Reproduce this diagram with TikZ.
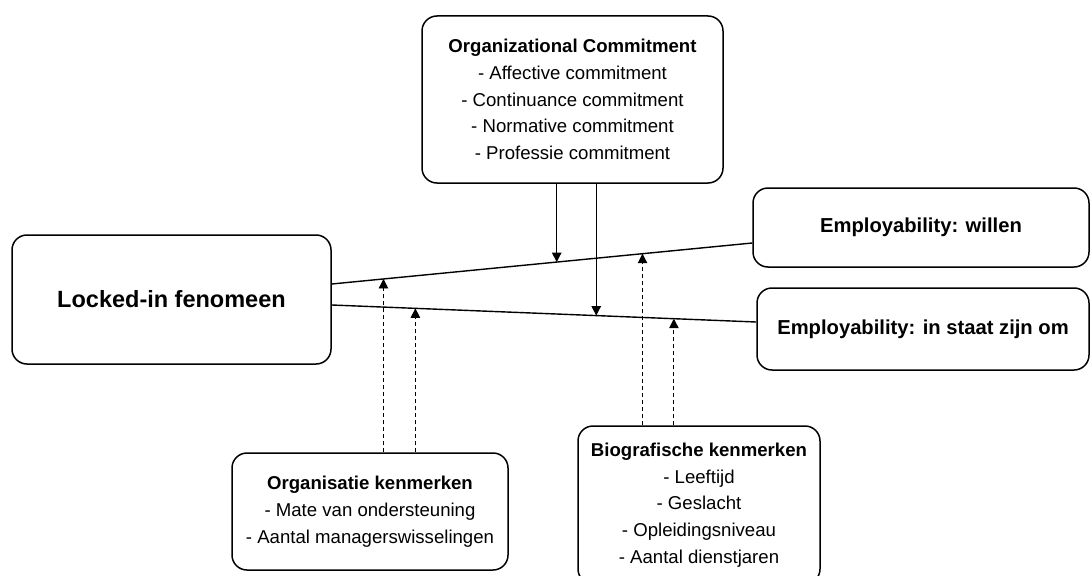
\documentclass[tikz,border=0pt]{standalone}
\usepackage{fontspec}
\setmainfont{Liberation Sans}
\usetikzlibrary{arrows.meta,calc}

\tikzset{box/.style={draw,line width=1.5pt,rounded corners=15pt,inner sep=0pt,align=center,font=\fontsize{18.6}{26.7}\selectfont},
big box/.style={box,font=\bfseries\fontsize{23.5}{28}\selectfont},
mid box/.style={box,font=\bfseries\fontsize{20.2}{26}\selectfont},
relation/.style={line width=1.4pt},
effect/.style={line width=1.1pt,-{Triangle[length=9.5pt,width=9.5pt]}},
moderator/.style={line width=0.9pt,dash pattern=on 4pt off 3pt,-{Triangle[length=9.5pt,width=9.5pt]}}}

\begin{document}
\begin{tikzpicture}[x=1pt,y=-1pt]
\useasboundingbox (0,0) rectangle (1091,575);
\clip (0,0) rectangle (1091,575);

%% boxes
\node [big box,minimum width=319pt,minimum height=129pt] (locked) at (171.5,299.5) {Locked-in fenomeen};
\node [box,minimum width=301pt,minimum height=167pt] (oc) at (572.5,99.5)
  {\textbf{Organizational Commitment}\\- Affective commitment\\- Continuance commitment\\- Normative commitment\\- Professie commitment};
\node [mid box,minimum width=336pt,minimum height=79pt] (willen) at (921,227.5) {Employability: willen};
\node [mid box,minimum width=332pt,minimum height=82pt] (staat) at (923,329) {Employability: in staat zijn om};
\node [box,minimum width=276pt,minimum height=117pt] (org) at (370,511.5)
  {\textbf{Organisatie kenmerken}\\- Mate van ondersteuning\\- Aantal managerswisselingen};
\node [box,minimum width=242pt,minimum height=158pt] (bio) at (699,505)
  {\textbf{Biografische kenmerken}\\- Leeftijd\\- Geslacht\\- Opleidingsniveau\\- Aantal dienstjaren};

%% line ends on the boxes
\coordinate (l1a) at ([yshift=15.5pt]locked.east);
\coordinate (l1b) at ([yshift=-15.5pt]willen.west);
\coordinate (l2a) at ([yshift=-5.5pt]locked.east);
\coordinate (l2b) at ([yshift=7pt]staat.west);

%% relations
\draw [relation] (l1a) -- (l1b);
\draw [relation] (l2a) -- (l2b);

%% points on the relations
\coordinate (m1) at ($(l1a)!0.535!(l1b)$);
\coordinate (m2) at ($(l2a)!0.623!(l2b)$);
\coordinate (d1) at ($(l1a)!0.123!(l1b)$);
\coordinate (d2) at ($(l2a)!0.197!(l2b)$);
\coordinate (d3) at ($(l1a)!0.739!(l1b)$);
\coordinate (d4) at ($(l2a)!0.806!(l2b)$);

%% commitment effects
\draw [effect] (oc.south -| m1) -- (m1);
\draw [effect] (oc.south -| m2) -- (m2);

%% moderators
\draw [moderator] (org.north -| d1) -- (d1);
\draw [moderator] (org.north -| d2) -- (d2);
\draw [moderator] (bio.north -| d3) -- (d3);
\draw [moderator] (bio.north -| d4) -- (d4);

\end{tikzpicture}
\end{document}
